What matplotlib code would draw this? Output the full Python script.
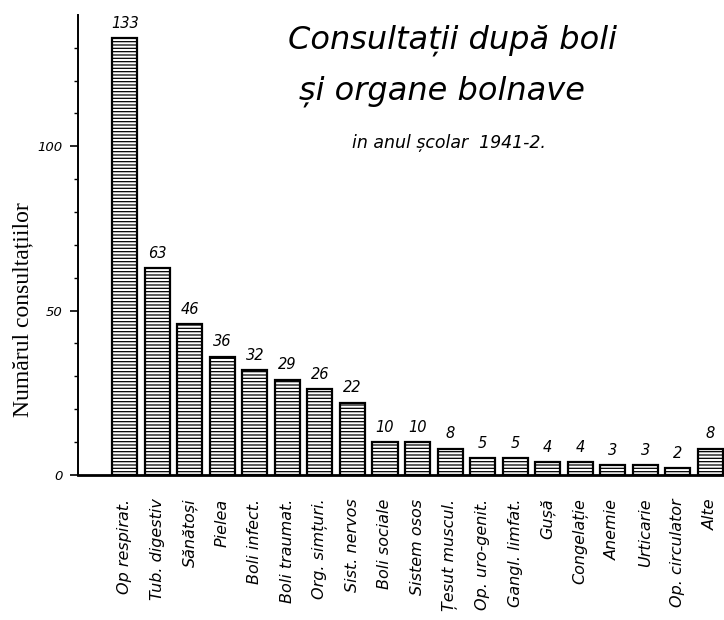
import numpy as np
import matplotlib
matplotlib.use('Agg')
import matplotlib.pyplot as plt

# Data
categories = ['Op respirat.', 'Tub. digestiv', 'Sănătoși', 'Pielea', 'Boli infect.',
              'Boli traumat.', 'Org. simțuri.', 'Sist. nervos', 'Boli sociale',
              'Sistem osos', 'Țesut muscul.', 'Op. uro-genit.', 'Gangl. limfat.',
              'Gușă', 'Congelație', 'Anemie', 'Urticarie', 'Op. circulator', 'Alte']
values = [133, 63, 46, 36, 32, 29, 26, 22, 10, 10, 8, 5, 5, 4, 4, 3, 3, 2, 8]
y_ticks = [0, 50, 100]

plt.rcParams['hatch.linewidth'] = 0.9
HAND = 'DejaVu Sans'

fig = plt.figure(figsize=(7.24, 6.2), dpi=100, facecolor='white')
ax = fig.add_axes([0.108, 0.234, 0.892, 0.742])

x = np.arange(len(categories))
ax.bar(x, values, width=0.77, color='white', edgecolor='black', linewidth=1.6,
       hatch='-----', zorder=2)

# value labels above bars
for xi, v in zip(x, values):
    ax.text(xi, v + 2.2, str(v), ha='center', va='bottom', fontsize=10.5,
            family=HAND, style='italic', color='black')

ax.set_xlim(-1.43, 18.42)
ax.set_ylim(0, 140)

# axes styling
for side in ['top', 'right']:
    ax.spines[side].set_visible(False)
ax.spines['left'].set_linewidth(1.4)
ax.spines['bottom'].set_linewidth(2.0)

ax.set_yticks(y_ticks)
ax.set_yticklabels([str(t) for t in y_ticks], family=HAND, style='italic', fontsize=9.5)
ax.set_yticks(np.arange(10, 140, 10), minor=True)
ax.tick_params(axis='y', which='major', direction='out', length=6, width=1.2, pad=5)
ax.tick_params(axis='y', which='minor', direction='out', length=3, width=1.0)

ax.set_xticks(x)
ax.set_xticklabels(categories, rotation=90, ha='center', va='top',
                   family=HAND, style='italic', fontsize=11.5)
ax.tick_params(axis='x', length=0, pad=17)

ax.set_ylabel('Numărul consultațiilor', family='Liberation Serif', fontsize=17,
              va='center')
ax.yaxis.set_label_coords(-0.085, 0.359)

# title block
fig.text(0.625, 0.935, 'Consultații după boli', ha='center', va='center',
         family=HAND, style='italic', fontsize=23)
fig.text(0.61, 0.853, 'și organe bolnave', ha='center', va='center',
         family=HAND, style='italic', fontsize=23)
fig.text(0.62, 0.77, 'in anul școlar  1941-2.', ha='center', va='center',
         family=HAND, style='italic', fontsize=12.5)

fig.savefig('out.png', dpi=100, facecolor='white')
